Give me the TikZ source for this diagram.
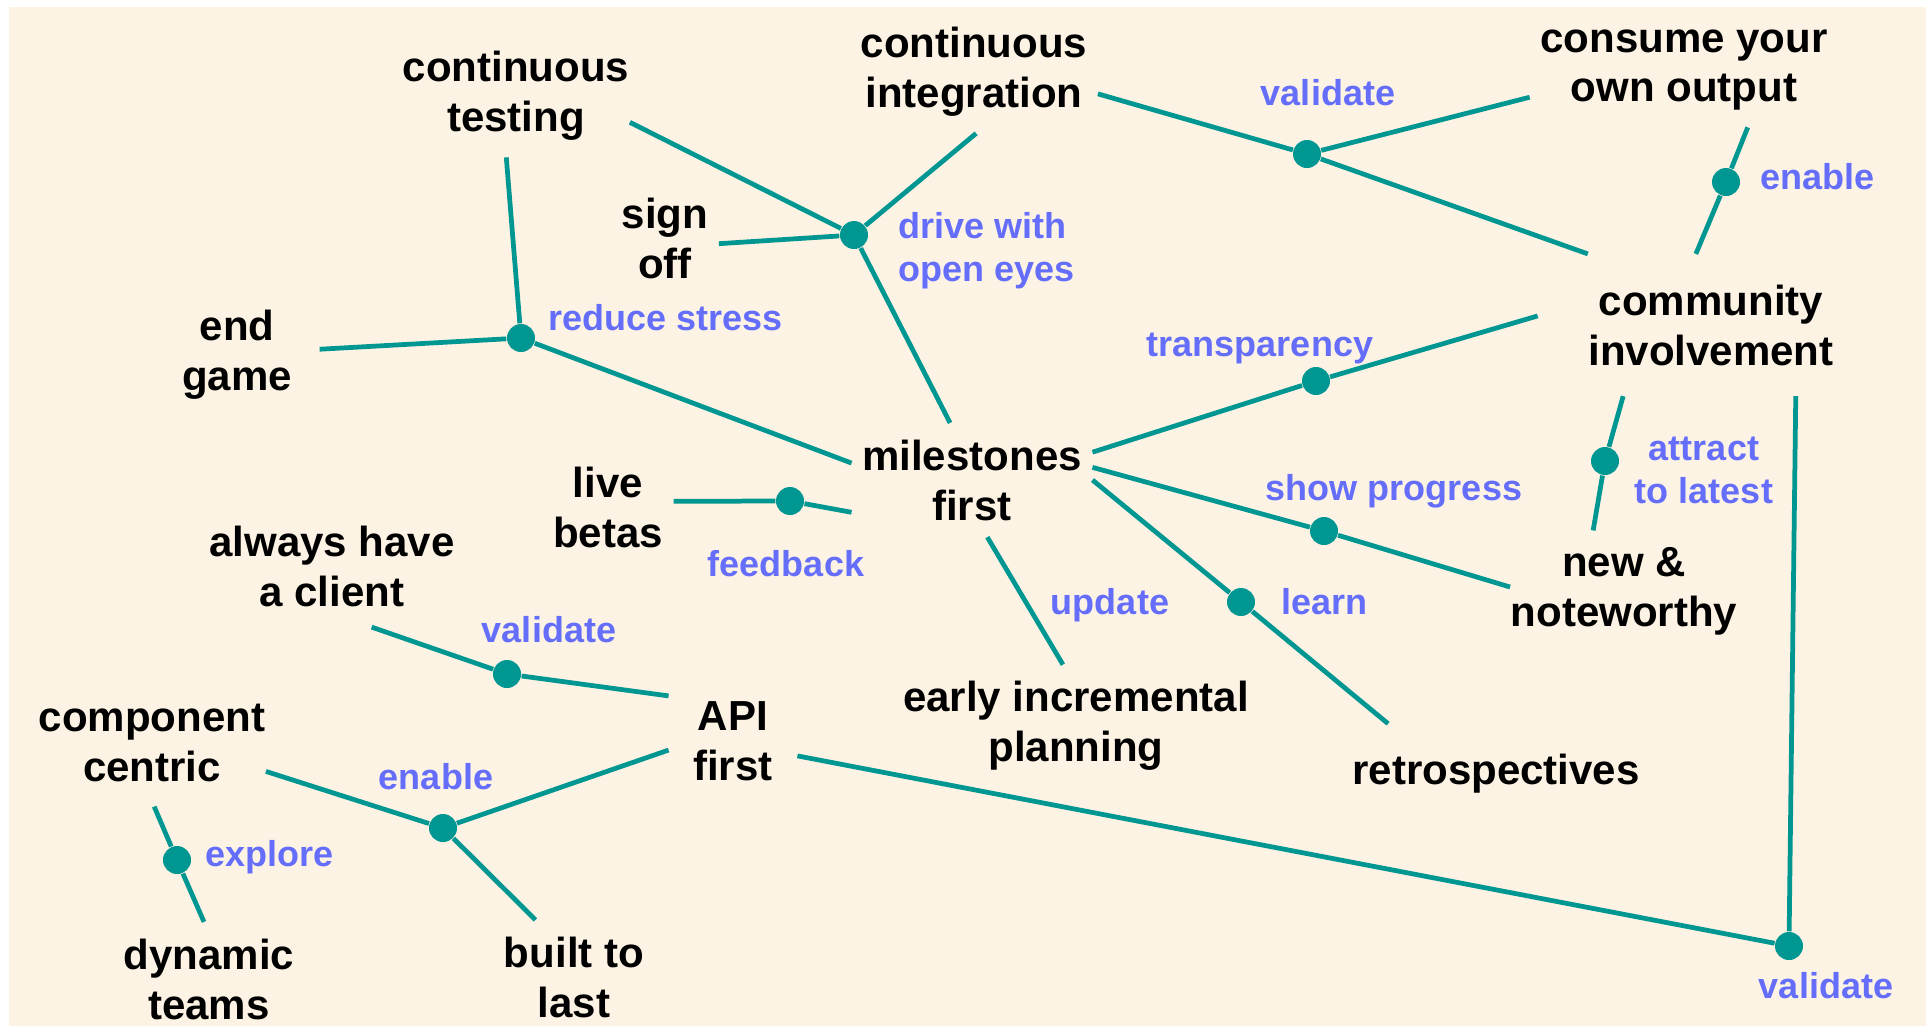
\documentclass[tikz,border=0pt]{standalone}
\usepackage{fontspec}
\setmainfont{Liberation Sans}
\usepackage{xcolor}
\usepackage{tikz}

\definecolor{linkteal}{RGB}{0,150,145}
\definecolor{noteblue}{RGB}{100,110,250}
\definecolor{paper}{RGB}{253,243,228}

\begin{document}
\begin{tikzpicture}[x=0.01cm, y=-0.01cm,
  topic/.style={align=center, font=\bfseries\fontsize{11.95}{14.2}\selectfont, inner xsep=0.1cm, inner ysep=0.16cm},
  hub/.style={circle, fill=linkteal, inner sep=0pt, minimum size=0.28cm},
  note/.style={text=noteblue, font=\bfseries\fontsize{10.24}{12.2}\selectfont, align=left, inner sep=0pt},
  link/.style={draw=linkteal, line width=1.35pt}]

\useasboundingbox (0,0) rectangle (1926,1026);
\fill[paper] (9,7) rectangle (1926,1026);

% topics
\node[topic, inner xsep=0cm] (ctest) at (516, 96) {continuous\\testing};
\node[topic] (cint) at (974, 72) {continuous\\integration};
\node[topic] (consume) at (1684, 70) {consume your\\own output};
\node[topic] (sign) at (665, 238) {sign\\off};
\node[topic, inner xsep=0.27cm] (endg) at (237, 355) {end\\game};
\node[topic, inner xsep=0.5cm, inner ysep=0.3cm] (comm) at (1711, 325) {community\\involvement};
\node[topic] (mile) at (972, 480) {milestones\\first};
\node[topic] (live) at (608, 507) {live\\betas};
\node[topic, inner ysep=0.2cm] (always) at (332, 566) {always have\\a client};
\node[topic, inner xsep=0cm] (newn) at (1624, 591) {new \&\\noteworthy};
\node[topic] (early) at (1076, 726) {early incremental\\planning};
\node[topic, inner ysep=0.3cm] (retro) at (1496, 774) {retrospectives};
\node[topic, inner xsep=0.24cm] (api) at (733, 741) {API\\first};
\node[topic, inner xsep=0cm, inner ysep=0.24cm] (comp) at (152, 743) {component\\centric};
\node[topic] (dyn) at (209, 979) {dynamic\\teams};
\node[topic] (built) at (574, 977) {built to\\last};

% hubs
\node[hub] (eyes) at (854, 235) {};
\node[hub] (stress) at (521, 338) {};
\node[hub] (valtop) at (1307, 154) {};
\node[hub] (enabletop) at (1726, 182) {};
\node[hub] (transp) at (1316, 381) {};
\node[hub] (feedb) at (790, 501) {};
\node[hub] (attract) at (1605, 461) {};
\node[hub] (progress) at (1324, 531) {};
\node[hub] (learn) at (1241, 602) {};
\node[hub] (valclient) at (507, 674) {};
\node[hub] (enablecomp) at (443, 828) {};
\node[hub] (explore) at (177, 860) {};
\node[hub] (valapi) at (1789, 946) {};

% links
\draw[link] (ctest.-13) -- (eyes);
\draw[link] (sign.-6) -- (eyes);
\draw[link] (cint.-88) -- (eyes);
\draw[link] (eyes) -- (mile.111);
\draw[link] (ctest.-99) -- (stress);
\draw[link] (endg.4) -- (stress);
\draw[link] (stress) -- (mile.172);
\draw[link] (cint.-10) -- (valtop);
\draw[link] (valtop) -- (consume.-170);
\draw[link] (valtop) -- (comm.150);
\draw[link] (consume.-42) -- (enabletop) -- (comm.102);
\draw[link] (mile.13) -- (transp) -- (comm.177);
\draw[link] (live.5) -- (feedb) -- (mile.-165);
\draw[link] (comm.-141) -- (attract) -- (newn.117);
\draw[link] (mile.6) -- (progress) -- (newn.178);
\draw[link] (mile.0) -- (learn) -- (retro.155);
\draw[link] (mile.-75) -- (early.102);
\draw[link] (always.-57) -- (valclient) -- (api.145);
\draw[link] (comp.-14) -- (enablecomp) -- (api.-172);
\draw[link] (enablecomp) -- (built.124);
\draw[link] (comp.-88) -- (explore) -- (dyn.95);
\draw[link] (api.-13) -- (valapi) -- (comm.-40);

% labels
\node[note, anchor=west] (eyeslbl) at (898, 251) {drive with\\open eyes};
\node[note, anchor=west] (stresslbl) at (548, 318) {reduce stress};
\node[note] (valtoplbl) at (1328, 93) {validate};
\node[note, anchor=west] (enabletoplbl) at (1760, 177) {enable};
\node[note] (transplbl) at (1260, 348) {transparency};
\node[note] (feedblbl) at (786, 564) {feedback};
\node[note, align=center] (attractlbl) at (1704, 470) {attract\\to latest};
\node[note] (progresslbl) at (1394, 491) {show progress};
\node[note, anchor=west] (learnlbl) at (1281, 602) {learn};
\node[note] (updatelbl) at (1110, 605) {update};
\node[note] (valclientlbl) at (549, 630) {validate};
\node[note] (enablecomplbl) at (436, 777) {enable};
\node[note, anchor=west] (explorelbl) at (205, 857) {explore};
\node[note] (valapilbl) at (1826, 986) {validate};

\end{tikzpicture}
\end{document}
